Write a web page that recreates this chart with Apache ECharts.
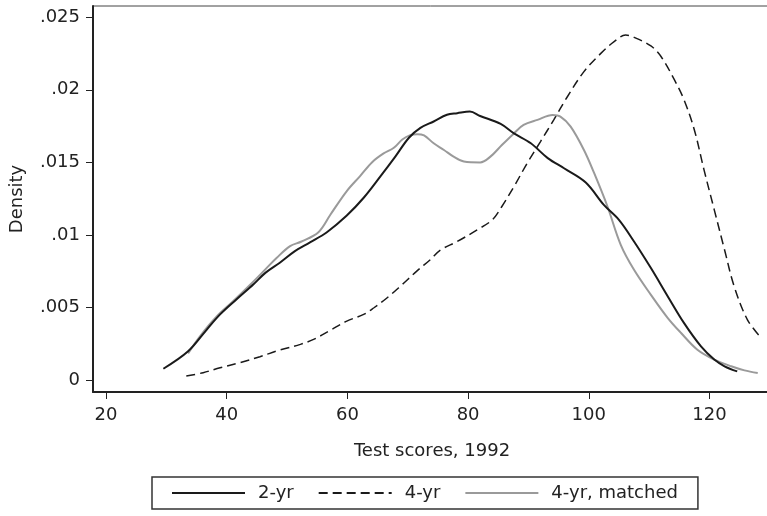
<!DOCTYPE html>
<html>
<head>
<meta charset="utf-8">
<title>Test score densities, 1992</title>
<script src="https://cdn.jsdelivr.net/npm/echarts@6/dist/echarts.min.js"></script>
<style>
  html, body { margin: 0; padding: 0; background: #fff; }
  #chart { width: 767px; height: 516px; }
</style>
</head>
<body>
<div id="chart"></div>
<script>
// Kernel density estimates of 1992 test scores
const twoYrX = [29.5, 33.6, 36.7, 38.9, 41.6, 44.4, 46.4, 48.8, 51.3, 53.8, 56.6, 59.9, 62.7, 65.5, 68.0, 70.2, 72.1, 74.3, 76.5, 78.2, 80.3, 82.0, 85.4, 87.6, 90.4, 93.2, 95.9, 99.5, 102.5, 105.0, 107.5, 110.3, 113.1, 115.8, 118.6, 120.8, 122.5, 124.6];
const twoYrY = [0.0008, 0.0020, 0.0035, 0.00454, 0.00557, 0.0066, 0.0074, 0.0081, 0.0089, 0.0095, 0.0102, 0.01135, 0.01257, 0.01406, 0.01544, 0.0167, 0.01738, 0.01782, 0.01828, 0.01839, 0.0185, 0.0182, 0.01765, 0.0170, 0.01632, 0.0153, 0.0146, 0.01362, 0.01208, 0.01105, 0.00956, 0.00773, 0.00578, 0.00394, 0.00234, 0.00143, 0.00097, 0.00062];

const fourYrX = [33.3, 36.1, 38.9, 42.2, 45.5, 48.8, 52.2, 54.4, 57.2, 59.9, 62.7, 64.4, 66.6, 68.8, 71.5, 73.8, 75.4, 78.2, 81.5, 84.0, 85.6, 87.6, 89.8, 92.0, 94.2, 96.4, 99.2, 102.0, 104.2, 106.1, 107.5, 110.3, 112.0, 114.2, 115.8, 117.5, 119.1, 120.8, 122.5, 124.1, 126.3, 128.6];
const fourYrY = [0.0003, 0.00053, 0.00087, 0.00122, 0.00163, 0.00209, 0.00248, 0.00282, 0.00346, 0.00408, 0.00454, 0.0050, 0.00569, 0.00649, 0.00752, 0.00833, 0.00897, 0.00956, 0.01036, 0.01105, 0.01197, 0.01334, 0.01495, 0.01644, 0.01793, 0.01949, 0.02125, 0.02251, 0.02332, 0.02377, 0.02361, 0.02302, 0.02228, 0.02068, 0.0193, 0.01724, 0.01449, 0.01174, 0.00899, 0.00647, 0.00417, 0.00291];

const matchedX = [33.6, 35.6, 38.3, 41.1, 44.1, 46.4, 48.3, 50.5, 52.4, 55.2, 57.2, 59.9, 62.1, 64.1, 66.0, 67.7, 69.1, 70.4, 71.6, 72.7, 74.3, 76.0, 77.6, 79.3, 82.0, 83.7, 85.6, 87.6, 89.2, 91.5, 94.0, 95.3, 97.0, 99.2, 100.9, 103.1, 105.3, 107.5, 110.3, 113.1, 115.3, 118.0, 120.8, 123.6, 125.8, 128.0];
const matchedY = [0.00186, 0.00305, 0.00438, 0.00546, 0.00667, 0.00764, 0.00844, 0.00924, 0.00956, 0.0102, 0.01142, 0.01303, 0.01406, 0.01502, 0.01562, 0.01601, 0.01658, 0.01688, 0.01695, 0.01686, 0.01632, 0.01586, 0.0154, 0.01506, 0.0150, 0.0154, 0.0162, 0.0170, 0.01758, 0.01793, 0.01827, 0.01816, 0.01747, 0.01586, 0.01426, 0.01197, 0.00933, 0.00761, 0.00589, 0.00429, 0.00326, 0.00211, 0.00143, 0.00097, 0.00069, 0.00051];

const xTicks = [20, 40, 60, 80, 100, 120];
const yTicks = [0, 0.005, 0.01, 0.015, 0.02, 0.025];
const seriesNames = ['2-yr', '4-yr', '4-yr, matched'];

const pairs = (xs, ys) => xs.map((x, i) => [x, ys[i]]);
const FONT = 'DejaVu Sans';
const INK = '#222';

const chart = echarts.init(document.getElementById('chart'), null, { renderer: 'canvas' });

chart.setOption({
  backgroundColor: '#fff',
  animation: false,
  textStyle: { fontFamily: FONT },
  grid: {
    left: 93, top: 6, right: -4, bottom: 124,
    containLabel: false, outerBoundsMode: 'none',
    show: true, borderColor: '#444', borderWidth: 1, backgroundColor: 'transparent'
  },
  legend: {
    data: seriesNames,
    left: 152, top: 477,
    orient: 'horizontal',
    itemWidth: 73, itemHeight: 14, itemGap: 24,
    padding: [7, 20, 7, 19],
    borderColor: '#333', borderWidth: 1.5, borderRadius: 0,
    itemStyle: { opacity: 0 },
    textStyle: { fontFamily: FONT, fontSize: 18, color: INK, padding: [0, 0, 0, 8] }
  },
  xAxis: {
    type: 'value',
    min: 17.84, max: 130.2,
    name: 'Test scores, 1992',
    nameLocation: 'middle', nameGap: 50,
    nameTextStyle: { fontFamily: FONT, fontSize: 18, color: INK },
    axisLine: { show: true, onZero: false, lineStyle: { color: INK, width: 2 } },
    axisTick: { show: true, length: 7, customValues: xTicks, lineStyle: { color: INK, width: 1 } },
    axisLabel: { customValues: xTicks, margin: 14, fontFamily: FONT, fontSize: 18, color: INK },
    splitLine: { show: false }
  },
  yAxis: {
    type: 'value',
    min: -0.0008, max: 0.02577,
    name: 'Density',
    nameLocation: 'middle', nameGap: 67, nameRotate: 90,
    nameTextStyle: { fontFamily: FONT, fontSize: 18, color: INK },
    axisLine: { show: true, onZero: false, lineStyle: { color: INK, width: 2 } },
    axisTick: { show: true, length: 7, customValues: yTicks, lineStyle: { color: INK, width: 1 } },
    axisLabel: {
      customValues: yTicks, margin: 13, fontFamily: FONT, fontSize: 18, color: INK,
      formatter: v => (v === 0 ? '0' : String(v).replace(/^0/, ''))
    },
    splitLine: { show: false }
  },
  series: [
    {
      name: seriesNames[0], type: 'line', data: pairs(twoYrX, twoYrY),
      showSymbol: false, symbol: 'none', smooth: 0.35,
      lineStyle: { color: '#1a1a1a', width: 2 }, itemStyle: { color: '#1a1a1a' }, z: 3
    },
    {
      name: seriesNames[1], type: 'line', data: pairs(fourYrX, fourYrY),
      showSymbol: false, symbol: 'none', smooth: 0.35,
      lineStyle: { color: '#1a1a1a', width: 1.5, type: [9, 5] }, itemStyle: { color: '#1a1a1a' }, z: 2
    },
    {
      name: seriesNames[2], type: 'line', data: pairs(matchedX, matchedY),
      showSymbol: false, symbol: 'none', smooth: 0.35,
      lineStyle: { color: '#9a9a9a', width: 2 }, itemStyle: { color: '#9a9a9a' }, z: 2
    }
  ]
});
</script>
</body>
</html>
